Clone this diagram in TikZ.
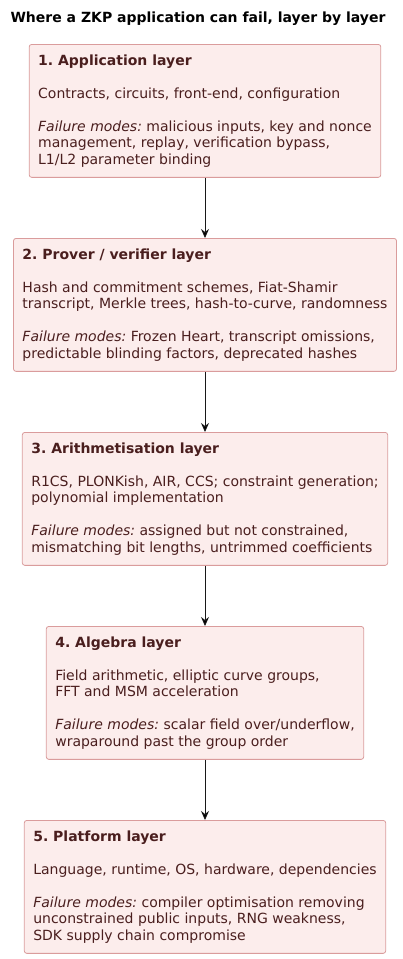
\documentclass[tikz,border=0pt]{standalone}
\usepackage{fontspec}
\setmainfont{DejaVu Sans}
\usetikzlibrary{arrows.meta}
\frenchspacing
\definecolor{layerfill}{HTML}{FCEDEC}
\definecolor{layerline}{HTML}{DA9C9C}
\definecolor{layerink}{HTML}{4A1E1E}
\definecolor{flowline}{HTML}{181818}
\tikzset{
  layer/.style={draw=layerline, fill=layerfill, text=layerink, rounded corners=2.5pt,
    line width=0.8pt, align=left, inner xsep=9pt, inner ysep=10.2pt, anchor=north,
    font=\fontsize{14}{16.5}\selectfont},
  flow/.style={draw=flowline, line width=0.9pt, -{Stealth[length=9pt,width=8pt,inset=3pt]}},
}
\newcommand{\fmodes}{\textit{Failure modes:}}
\begin{document}
\begin{tikzpicture}[x=1pt,y=1pt]
\useasboundingbox (0,0) rectangle (402,-959);
\node (title) at (198,-18.5) {\fontsize{14}{16.5}\selectfont\bfseries Where a ZKP application can fail, layer by layer};
\node[layer] (l1) at (205,-44) {\textbf{1. Application layer}\\[16.5pt]
  Contracts, circuits, front-end, configuration\\[16.5pt]
  \fmodes{} malicious inputs, key and nonce\\
  management, replay, verification bypass,\\
  L1/L2 parameter binding};
\node[layer] (l2) at (205,-238) {\textbf{2. Prover / verifier layer}\\[16.5pt]
  Hash and commitment schemes, Fiat-Shamir\\
  transcript, Merkle trees, hash-to-curve, randomness\\[16.5pt]
  \fmodes{} Frozen Heart, transcript omissions,\\
  predictable blinding factors, deprecated hashes};
\node[layer] (l3) at (205,-432) {\textbf{3. Arithmetisation layer}\\[16.5pt]
  R1CS, PLONKish, AIR, CCS; constraint generation;\\
  polynomial implementation\\[16.5pt]
  \fmodes{} assigned but not constrained,\\
  mismatching bit lengths, untrimmed coefficients};
\node[layer] (l4) at (205,-626) {\textbf{4. Algebra layer}\\[16.5pt]
  Field arithmetic, elliptic curve groups,\\
  FFT and MSM acceleration\\[16.5pt]
  \fmodes{} scalar field over/underflow,\\
  wraparound past the group order};
\node[layer] (l5) at (205,-820) {\textbf{5. Platform layer}\\[16.5pt]
  Language, runtime, OS, hardware, dependencies\\[16.5pt]
  \fmodes{} compiler optimisation removing\\
  unconstrained public inputs, RNG weakness,\\
  SDK supply chain compromise};
\draw[flow] (l1) edge (l2);
\draw[flow] (l2) edge (l3);
\draw[flow] (l3) edge (l4);
\draw[flow] (l4) edge (l5);
\end{tikzpicture}
\end{document}
